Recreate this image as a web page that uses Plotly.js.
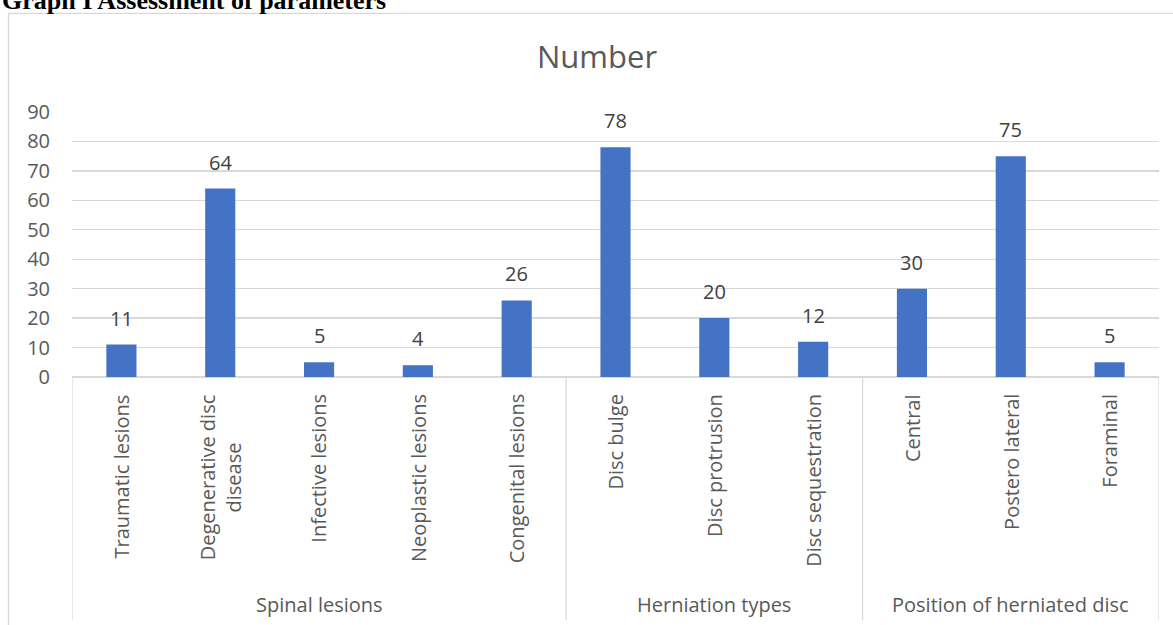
<!DOCTYPE html>
<html>
<head>
<meta charset="utf-8">
<script src="https://cdn.plot.ly/plotly-3.0.1.min.js"></script>
<style>
html,body{margin:0;padding:0;background:#fff;}
#chart{width:1173px;height:625px;}
</style>
</head>
<body>
<div id="chart"></div>
<script>
// ---- data ----
const categories = ["Traumatic lesions","Degenerative disc disease","Infective lesions","Neoplastic lesions","Congenital lesions","Disc bulge","Disc protrusion","Disc sequestration","Central","Postero lateral","Foraminal"];
const categoryLabels = ["Traumatic lesions","Degenerative disc<br>disease","Infective lesions","Neoplastic lesions","Congenital lesions","Disc bulge","Disc protrusion","Disc sequestration","Central","Postero lateral","Foraminal"];
const values = [11, 64, 5, 4, 26, 78, 20, 12, 30, 75, 5];
const groups = ["Spinal lesions","Herniation types","Position of herniated disc"];
const groupSizes = [5, 3, 3];
const yTickVals = [0,10,20,30,40,50,60,70,80,90];
const chartTitle = "Number";
const pageCaption = "Graph I Assessment of parameters";

// ---- styles ----
const FONT = "Open Sans, sans-serif";
const GRID = "#d9d9d9";
const AXIS_TXT = "#595959";
const LABEL_TXT = "#404040";
const BAR = "#4472C4";

const annotations = [];
const shapes = [];

// data labels
values.forEach((v, i) => {
  annotations.push({
    x: categories[i], y: v, xref: "x", yref: "y",
    text: String(v), showarrow: false, yanchor: "bottom", xanchor: "center",
    yshift: 11, font: {family: FONT, size: 20, color: LABEL_TXT}
  });
});

// category labels (rotated)
categoryLabels.forEach((t, i) => {
  annotations.push({
    x: categories[i], y: -0.057, xref: "x", yref: "paper",
    text: t, showarrow: false, textangle: -90, align: "center",
    xanchor: "center", yanchor: "top",
    font: {family: FONT, size: 20, color: AXIS_TXT}
  });
});

// group labels and separators
let start = 0;
shapes.push({type: "line", xref: "x", yref: "paper", x0: -0.5, x1: -0.5, y0: 0, y1: -0.917, line: {color: GRID, width: 1.3}});
groups.forEach((g, gi) => {
  const end = start + groupSizes[gi];
  annotations.push({
    x: (start + end - 1) / 2, y: -0.86, xref: "x", yref: "paper",
    text: g, showarrow: false, xanchor: "center", yanchor: "middle",
    font: {family: FONT, size: 20, color: AXIS_TXT}
  });
  shapes.push({type: "line", xref: "x", yref: "paper", x0: end - 0.5, x1: end - 0.5, y0: 0, y1: -0.917, line: {color: GRID, width: 1.3}});
  start = end;
});

// outer chart border (top & left visible)
shapes.push({type: "rect", xref: "paper", yref: "paper", x0: -0.0584, x1: 1.06, y0: 1.372, y1: -1.1, line: {color: GRID, width: 1.3}, fillcolor: "rgba(0,0,0,0)", layer: "below"});

// page caption, cut off at top as in the reference
annotations.push({
  x: -0.0662, y: 1.36, xref: "paper", yref: "paper",
  text: "<b>" + pageCaption + "</b>", showarrow: false, xanchor: "left", yanchor: "bottom",
  font: {family: "Liberation Serif, Times New Roman, serif", size: 26, color: "#000"}
});

const trace = {
  type: "bar", x: categories, y: values,
  marker: {color: BAR, line: {width: 0}},
  hoverinfo: "x+y"
};

const layout = {
  width: 1173, height: 625,
  margin: {l: 72, r: 14, t: 112, b: 248},
  paper_bgcolor: "#fff", plot_bgcolor: "#fff",
  bargap: 0.695,
  showlegend: false,
  title: {
    text: chartTitle, xref: "container", yref: "container", x: 0.509, y: 0.909,
    xanchor: "center", yanchor: "middle",
    font: {family: FONT, size: 31, color: AXIS_TXT}
  },
  xaxis: {
    type: "category", showticklabels: false, showgrid: false, zeroline: false,
    showline: false, ticks: "", range: [-0.5, 10.5]
  },
  yaxis: {
    range: [0, 90], tickvals: yTickVals, ticks: "", showline: false,
    gridcolor: GRID, gridwidth: 1.3, zeroline: true, zerolinecolor: GRID, zerolinewidth: 1.3,
    ticklabelstandoff: 21,
    tickfont: {family: FONT, size: 20, color: AXIS_TXT}
  },
  annotations: annotations,
  shapes: shapes
};

Plotly.newPlot("chart", [trace], layout, {displayModeBar: false, staticPlot: true});
</script>
</body>
</html>
